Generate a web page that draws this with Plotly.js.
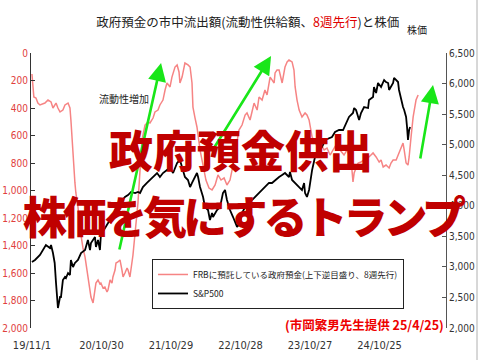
<!DOCTYPE html>
<html>
<head>
<meta charset="utf-8">
<script src="https://cdn.plot.ly/plotly-3.0.1.min.js"></script>
<style>
  html, body { margin: 0; padding: 0; background: #fff; }
  #chart { width: 480px; height: 360px; }
</style>
</head>
<body>
<div id="chart"></div>
<script>
// Treasury General Account at the Fed (inverted scale, shifted 8 weeks ahead), $bn
const fgDates = [
  '2019-11-01','2019-11-06','2019-11-11','2019-11-22','2019-12-02','2019-12-13','2019-12-23',
  '2020-01-08','2020-01-24','2020-02-09','2020-02-19','2020-03-06','2020-03-16','2020-03-27',
  '2020-04-11','2020-04-22','2020-05-08','2020-05-13','2020-05-18','2020-05-23','2020-05-29',
  '2020-06-03','2020-06-13','2020-06-18','2020-06-29','2020-07-09','2020-07-15','2020-07-25',
  '2020-08-05','2020-08-15','2020-08-20','2020-08-31','2020-09-05','2020-09-16','2020-09-26',
  '2020-10-01','2020-10-12','2020-10-22','2020-10-27','2020-11-07','2020-11-17','2020-11-28',
  '2020-12-03','2020-12-14','2020-12-24','2020-12-29','2021-01-09','2021-01-14','2021-01-24',
  '2021-02-04','2021-02-14','2021-02-20','2021-03-02','2021-03-13','2021-03-18','2021-03-28',
  '2021-04-13','2021-04-29','2021-05-09','2021-05-20','2021-05-30','2021-06-15','2021-07-01',
  '2021-07-11','2021-07-27','2021-08-06','2021-08-22','2021-09-01','2021-09-17','2021-09-28',
  '2021-10-08','2021-10-24','2021-11-03','2021-11-19','2021-11-30','2021-12-10','2021-12-15',
  '2021-12-26','2022-01-10','2022-01-26','2022-02-06','2022-02-16','2022-02-21','2022-03-04',
  '2022-03-14','2022-03-30','2022-04-15','2022-04-30','2022-05-16','2022-06-01','2022-06-17',
  '2022-07-02','2022-07-18','2022-08-03','2022-08-18','2022-09-03','2022-09-19','2022-10-05',
  '2022-10-20','2022-11-05','2022-11-21','2022-12-01','2022-12-17','2022-12-27','2023-01-07',
  '2023-01-23','2023-02-02','2023-02-18','2023-03-05','2023-03-16','2023-04-01','2023-04-11',
  '2023-04-22','2023-04-27','2023-05-07','2023-05-18','2023-06-03','2023-06-18','2023-06-29',
  '2023-07-09','2023-07-25','2023-08-04','2023-08-10','2023-08-20','2023-08-31','2023-09-15',
  '2023-10-01','2023-10-11','2023-10-22','2023-11-07','2023-11-22','2023-12-08','2023-12-24',
  '2024-01-09','2024-01-24','2024-02-09','2024-02-25','2024-03-11','2024-04-01','2024-04-22',
  '2024-05-08','2024-05-18','2024-05-29','2024-06-08','2024-06-14','2024-06-24','2024-07-05',
  '2024-07-20','2024-07-31','2024-08-15','2024-08-31','2024-09-11','2024-09-21','2024-10-07',
  '2024-10-23','2024-11-02','2024-11-13','2024-11-28','2024-12-14','2024-12-24','2025-01-04',
  '2025-01-20','2025-02-04','2025-02-15','2025-02-25','2025-03-03','2025-03-13','2025-03-23',
  '2025-03-29','2025-04-08','2025-04-19','2025-05-04','2025-05-15'
];
const fgValues = [
  153,269,320,327,364,378,371,
  364,342,356,400,364,400,429,
  415,378,364,385,400,487,633,
  778,945,1018,1120,1273,1338,1418,
  1484,1578,1629,1724,1775,1818,1724,
  1673,1651,1680,1673,1709,1702,1738,
  1724,1651,1673,1629,1578,1527,1520,
  1505,1578,1629,1600,1564,1578,1629,
  1469,1215,1091,851,633,524,502,
  509,473,429,415,378,342,269,
  218,247,175,102,87,138,218,
  175,73,87,102,218,393,473,
  538,705,815,924,982,996,960,
  887,924,909,960,924,815,669,
  560,524,451,436,487,429,364,
  415,320,342,269,305,175,196,
  218,145,124,124,218,102,65,
  51,65,124,247,342,415,465,
  436,451,487,611,647,691,669,
  705,691,742,705,669,705,742,
  705,742,778,938,873,836,800,
  793,778,764,756,742,727,756,
  793,778,829,815,836,800,778,
  778,727,684,655,705,800,815,
  756,611,465,342,305
];

// S&P500 index
const spDates = [
  '2019-11-01','2019-11-17','2019-12-13','2019-12-29','2020-01-13','2020-02-03','2020-02-09',
  '2020-02-19','2020-02-28','2020-03-06','2020-03-16','2020-03-27','2020-04-01','2020-04-11',
  '2020-04-22','2020-04-27','2020-05-08','2020-05-18','2020-05-23','2020-06-03','2020-06-13',
  '2020-06-29','2020-07-15','2020-08-05','2020-08-20','2020-08-31','2020-09-05','2020-09-26',
  '2020-10-01','2020-10-12','2020-10-22','2020-10-27','2020-11-17','2020-12-03','2020-12-19',
  '2021-01-09','2021-01-14','2021-02-09','2021-03-02','2021-03-18','2021-04-03','2021-04-24',
  '2021-05-09','2021-05-20','2021-06-04','2021-06-25','2021-07-11','2021-07-27','2021-08-17',
  '2021-09-01','2021-09-17','2021-10-08','2021-10-24','2021-11-09','2021-11-30','2021-12-15',
  '2021-12-26','2021-12-31','2022-01-10','2022-01-26','2022-02-06','2022-02-16','2022-03-04',
  '2022-03-14','2022-03-20','2022-03-30','2022-04-15','2022-04-25','2022-05-11','2022-05-21',
  '2022-06-01','2022-06-06','2022-06-27','2022-07-13','2022-07-28','2022-08-08','2022-08-18',
  '2022-09-03','2022-09-19','2022-10-10','2022-10-26','2022-11-05','2022-11-21','2022-12-12',
  '2022-12-27','2023-01-12','2023-02-02','2023-02-18','2023-03-05','2023-03-26','2023-04-11',
  '2023-04-27','2023-05-18','2023-06-03','2023-06-18','2023-07-09','2023-07-14','2023-07-25',
  '2023-08-10','2023-08-31','2023-09-15','2023-09-26','2023-10-01','2023-10-11','2023-10-22',
  '2023-11-07','2023-11-22','2023-12-13','2023-12-29','2024-01-14','2024-02-04','2024-02-19',
  '2024-03-06','2024-03-27','2024-04-17','2024-05-03','2024-05-18','2024-06-08','2024-06-14',
  '2024-06-24','2024-07-10','2024-07-20','2024-08-05','2024-08-26','2024-08-31','2024-09-21',
  '2024-09-26','2024-10-07','2024-10-17','2024-11-02','2024-11-18','2024-11-28','2024-12-09',
  '2024-12-14','2025-01-04','2025-01-09','2025-01-30','2025-02-04','2025-02-15','2025-02-25',
  '2025-03-03','2025-03-13','2025-03-18','2025-03-23','2025-03-29','2025-04-03'
];
const spValues = [
  3080,3113,3195,3276,3358,3309,3358,
  3227,3064,2736,2327,2507,2507,2785,
  2835,2818,2900,2867,3113,2998,3064,
  3113,3227,3276,3440,3276,3391,3489,
  3325,3440,3276,3522,3636,3718,3800,
  3882,3980,4062,4144,4176,4226,4209,
  4226,4209,4307,4373,4422,4471,4536,
  4471,4536,4586,4618,4536,4700,4749,
  4635,4586,4471,4422,4307,4373,4471,
  4536,4471,4307,4144,3980,3931,3767,
  3882,3816,3931,3980,4209,4258,4095,
  3931,3816,3653,3718,3882,3980,4045,
  4095,4144,4209,4258,4307,4373,4373,
  4422,4471,4504,4536,4471,4553,4422,
  4373,4307,4258,4373,4209,4144,4258,
  4586,4798,4913,4962,5076,5109,5125,
  5207,5240,5240,5355,5453,5518,5600,
  5567,5404,5518,5616,5600,5731,5780,
  5944,5845,6009,5944,6058,6025,6009,
  5895,6009,6091,6025,5895,5731,5616,
  5567,5453,5289,5076,5240,5289
];

// x-axis ticks (52-week steps)
const tickDates = ['2019-11-01','2020-10-30','2021-10-29','2022-10-28','2023-10-27','2024-10-25'];
const tickLabels = ['19/11/1','20/10/30','21/10/29','22/10/28','23/10/27','24/10/25'];
const leftTicks = [0,200,400,600,800,1000,1200,1400,1600,1800,2000];
const rightTicks = [2000,2500,3000,3500,4000,4500,5000,5500,6000,6500];

// green "liquidity up" arrows: [tail date, tail S&P level, head date, head S&P level]
const arrowTails = [['2021-01-30',3260],['2022-06-11',4946],['2025-05-25',4749]];
const arrowHeads = [['2021-09-07',6336],['2023-04-06',6451],['2025-08-01',5976]];

const JP = '"Noto Sans CJK JP", "Noto Sans", sans-serif';
const NUM = '"Liberation Sans Narrow", "DejaVu Sans Condensed", "Liberation Sans", sans-serif';

const traces = [
  {
    x: fgDates, y: fgValues, type: 'scatter', mode: 'lines', yaxis: 'y',
    name: 'FRBに預託している政府預金(上下逆目盛り、8週先行)',
    line: { color: 'rgb(246,132,132)', width: 1.5 }
  },
  {
    x: spDates, y: spValues, type: 'scatter', mode: 'lines', yaxis: 'y2',
    name: 'S&P500',
    line: { color: '#000', width: 1.8 }
  }
];

const annotations = [
  { text: '株価', xref: 'paper', yref: 'paper', x: 0.930, y: 1.084,
    xanchor: 'center', yanchor: 'middle', showarrow: false,
    font: { family: JP, size: 10, color: '#222' } },
  { text: '流動性増加', xref: 'paper', yref: 'paper', x: 0.159, y: 0.836,
    xanchor: 'left', yanchor: 'middle',
    showarrow: false, font: { family: JP, size: 10, color: '#222' } },
  { text: '(市岡繁男先生提供 25/4/25)', xref: 'paper', yref: 'paper', x: 1.0, y: 0.011,
    xanchor: 'right', yanchor: 'middle', showarrow: false,
    font: { family: JP, size: 12.5, color: '#ee0000', weight: 'bold' } }
];

arrowTails.forEach((t, i) => {
  annotations.push({
    xref: 'x', yref: 'y2', axref: 'x', ayref: 'y2',
    x: arrowHeads[i][0], y: arrowHeads[i][1], ax: t[0], ay: t[1],
    text: '', showarrow: true, arrowhead: 2, arrowsize: 1.4, arrowwidth: 2.6,
    arrowcolor: '#19e619'
  });
});

// headline overlay
annotations.push(
  { text: '政府預金供出', xref: 'paper', yref: 'paper', x: 0.506, y: 0.651,
    xanchor: 'center', yanchor: 'middle', showarrow: false,
    font: { family: JP, size: 44, color: '#c00000', weight: 900 } },
  { text: '<span style="letter-spacing:-4px">株価を気にするトランプ</span>',
    xref: 'paper', yref: 'paper', x: 0.515, y: 0.412,
    xanchor: 'center', yanchor: 'middle', showarrow: false,
    font: { family: JP, size: 44, color: '#c00000', weight: 900 } }
);

const layout = {
  width: 480, height: 360,
  margin: { l: 31, r: 34, t: 53, b: 32 },
  paper_bgcolor: '#fff', plot_bgcolor: '#fff',
  title: {
    text: '政府預金の市中流出額(流動性供給額、<span style="color:#e00000">8週先行</span>)と株価',
    font: { family: JP, size: 12.5, color: '#222' },
    x: 0.516, xanchor: 'center', y: 0.936, yanchor: 'middle'
  },
  showlegend: true,
  legend: {
    x: 0.2916, y: 0.251, xanchor: 'left', yanchor: 'top',
    bgcolor: '#fff', bordercolor: '#222', borderwidth: 1,
    font: { family: JP, size: 8.5, color: '#222' }, tracegroupgap: 0
  },
  xaxis: {
    type: 'date', range: ['2019-10-27', '2025-10-08'],
    tickvals: tickDates, ticktext: tickLabels, ticks: '',
    ticklabelstandoff: 9,
    showgrid: false, zeroline: false, showline: false,
    tickfont: { family: NUM, size: 11, color: '#333' }
  },
  yaxis: {
    range: [2000, 0], tickvals: leftTicks, tickformat: ',',
    ticks: 'inside', ticklen: 4, tickcolor: '#333',
    showline: true, linecolor: '#333', linewidth: 1,
    showgrid: false, zeroline: false,
    tickfont: { family: NUM, size: 10, color: '#e0403c' }
  },
  yaxis2: {
    overlaying: 'y', side: 'right', range: [2000, 6500],
    tickvals: rightTicks, tickformat: ',',
    ticks: 'inside', ticklen: 4, tickcolor: '#555',
    showline: true, linecolor: '#555', linewidth: 1,
    showgrid: false, zeroline: false,
    tickfont: { family: NUM, size: 10, color: '#333' }
  },
  shapes: [
    { type: 'line', xref: 'paper', yref: 'paper', x0: 1.0747, x1: 1.0747, y0: -0.2, y1: 1.2,
      line: { color: '#b0b0b0', width: 1 } }
  ],
  annotations: annotations
};

Plotly.newPlot('chart', traces, layout, { displayModeBar: false, staticPlot: true });
</script>
</body>
</html>
